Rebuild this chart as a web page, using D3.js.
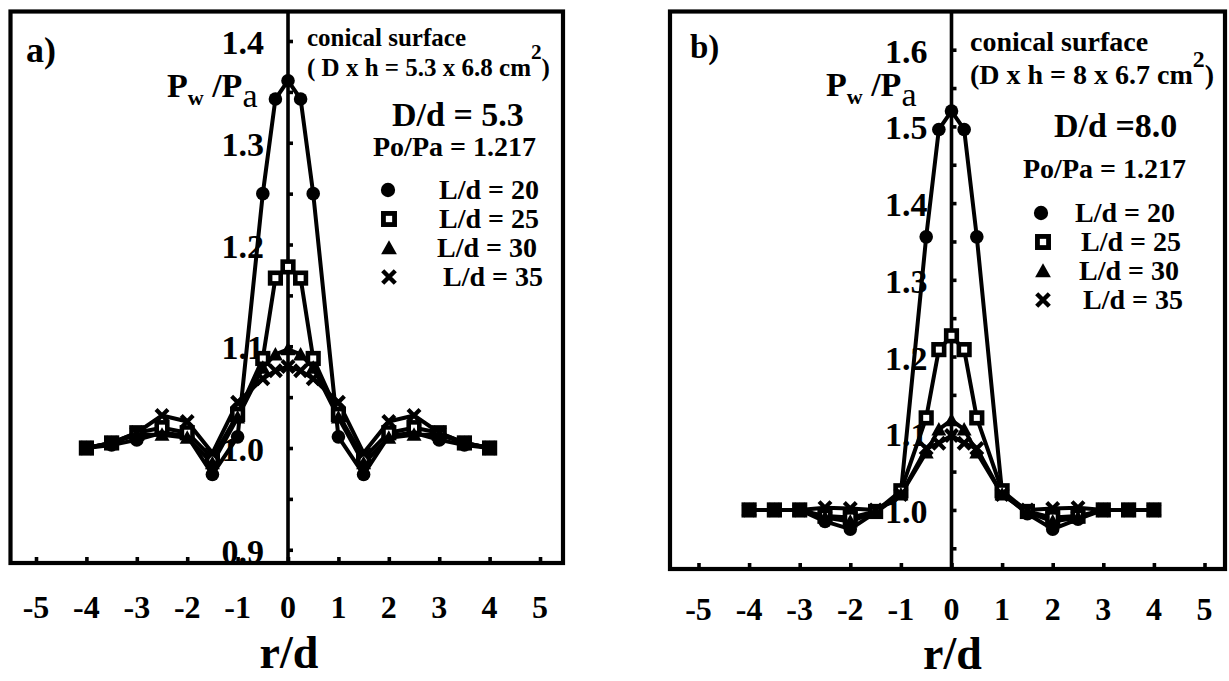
<!DOCTYPE html>
<html>
<head>
<meta charset="utf-8">
<script src="https://cdn.jsdelivr.net/npm/d3@7"></script>
<style>
  html, body { margin: 0; padding: 0; background: #fff; }
  svg { display: block; }
  svg text { font-family: "Liberation Serif", "Times New Roman", Times, serif; font-weight: 700; fill: #000; }
</style>
</head>
<body>
<svg id="chart" width="1229" height="681"></svg>
<script>
// radial positions r/d shared by every series
const rd = [-4, -3.5, -3, -2.5, -2, -1.5, -1, -0.5, -0.25, 0, 0.25, 0.5, 1, 1.5, 2, 2.5, 3, 3.5, 4];

// panel a: D/d = 5.3, wall pressure ratio Pw/Pa
const a_L20 = [1.000, 1.003, 1.008, 1.015, 1.012, 0.974, 1.011, 1.250, 1.343, 1.361, 1.343, 1.250, 1.011, 0.974, 1.012, 1.015, 1.008, 1.003, 1.000];
const a_L25 = [1.000, 1.005, 1.015, 1.020, 1.015, 0.990, 1.033, 1.088, 1.167, 1.178, 1.167, 1.088, 1.033, 0.990, 1.015, 1.020, 1.015, 1.005, 1.000];
const a_L30 = [1.000, 1.005, 1.013, 1.013, 1.010, 0.985, 1.030, 1.079, 1.092, 1.097, 1.092, 1.079, 1.030, 0.985, 1.010, 1.013, 1.013, 1.005, 1.000];
const a_L35 = [1.000, 1.005, 1.015, 1.032, 1.026, 0.995, 1.045, 1.068, 1.076, 1.080, 1.076, 1.068, 1.045, 0.995, 1.026, 1.032, 1.015, 1.005, 1.000];

// panel b: D/d = 8.0
const b_L20 = [1.000, 1.000, 1.000, 0.985, 0.975, 0.997, 1.022, 1.356, 1.496, 1.520, 1.496, 1.356, 1.022, 0.995, 0.975, 0.988, 1.000, 1.000, 1.000];
const b_L25 = [1.000, 1.000, 1.000, 0.992, 0.990, 0.998, 1.025, 1.120, 1.209, 1.227, 1.209, 1.120, 1.025, 0.998, 0.990, 0.992, 1.000, 1.000, 1.000];
const b_L30 = [1.000, 1.000, 1.000, 0.990, 0.985, 0.997, 1.020, 1.075, 1.105, 1.117, 1.105, 1.075, 1.020, 0.997, 0.985, 0.990, 1.000, 1.000, 1.000];
const b_L35 = [1.000, 1.000, 1.000, 1.003, 1.002, 1.000, 1.020, 1.080, 1.087, 1.097, 1.087, 1.080, 1.020, 1.000, 1.002, 1.003, 1.000, 1.000, 1.000];

// legend labels and marker kinds
const seriesLabels = ["L/d = 20", "L/d = 25", "L/d = 30", "L/d = 35"];
const markerKinds = ["circle", "square", "triangle", "cross"];

// tick labels
const xTicks = [-5, -4, -3, -2, -1, 0, 1, 2, 3, 4, 5];
const aYTicks = ["0.9", "1.0", "1.1", "1.2", "1.3", "1.4"];
const bYTicks = ["1.0", "1.1", "1.2", "1.3", "1.4", "1.5", "1.6"];

const FONT = "'Liberation Serif', 'Times New Roman', Times, serif";
const svg = d3.select("#chart");

function label(g, x, y, size, str) {
  return g.append("text").attr("x", x).attr("y", y)
    .attr("font-family", FONT).attr("font-weight", 700).attr("font-size", size).text(str);
}

function drawMarker(g, kind, x, y, s) {
  if (kind === "circle") {
    g.append("circle").attr("cx", x).attr("cy", y).attr("r", 6.8 * s).attr("fill", "#000");
  } else if (kind === "square") {
    const h = 5.3 * s;
    g.append("rect").attr("x", x - h).attr("y", y - h).attr("width", 2 * h).attr("height", 2 * h)
      .attr("fill", "#fff").attr("stroke", "#000").attr("stroke-width", 4.6 * s);
  } else if (kind === "triangle") {
    const h = 7.5 * s;
    g.append("path").attr("d", `M${x},${y - h}L${x + h},${y + h * 0.8}L${x - h},${y + h * 0.8}Z`).attr("fill", "#000");
  } else {
    const h = 6 * s;
    g.append("path").attr("d", `M${x - h},${y - h}L${x + h},${y + h}M${x - h},${y + h}L${x + h},${y - h}`)
      .attr("stroke", "#000").attr("stroke-width", 4.2 * s).attr("fill", "none");
  }
}

function drawPanel(p) {
  const x = d3.scaleLinear().domain(p.xDomain).range([p.left, p.right]);
  const y = d3.scaleLinear().domain(p.yDomain).range([p.bottom, p.top]);
  const g = svg.append("g");

  // y tick labels sit under the data
  g.selectAll(".ylab").data(p.yTicks).join("text")
    .attr("x", x(0) - 24).attr("y", d => y(+d) + 13)
    .attr("text-anchor", "end").attr("font-family", FONT).attr("font-weight", 700)
    .attr("font-size", 34).text(d => d);

  // vertical axis through r/d = 0 with small ticks on its right side
  g.append("line").attr("x1", x(0)).attr("x2", x(0)).attr("y1", p.top).attr("y2", p.bottom)
    .attr("stroke", "#000").attr("stroke-width", 3.6);
  const yAxis = d3.axisRight(y).tickValues(d3.range(p.yMinor[0], p.yMinor[1] + 1e-9, 0.05))
    .tickSize(5).tickFormat("");
  const ya = g.append("g").attr("transform", `translate(${x(0)},0)`).call(yAxis);
  ya.select(".domain").remove();
  ya.selectAll("line").attr("stroke", "#000").attr("stroke-width", 3.6);

  // bottom ticks and labels
  const xAxis = d3.axisTop(x).tickValues(xTicks).tickSize(6).tickFormat("");
  const xa = g.append("g").attr("transform", `translate(0,${p.bottom})`).call(xAxis);
  xa.select(".domain").remove();
  xa.selectAll("line").attr("stroke", "#000").attr("stroke-width", 3.6);
  g.selectAll(".xlab").data(xTicks).join("text")
    .attr("x", d => x(d)).attr("y", p.xLabelY).attr("text-anchor", "middle")
    .attr("font-family", FONT).attr("font-weight", 700)
    .attr("font-size", 32).text(d => d);
  label(g, x(0) + 1, p.titleY, 46, "r/d").attr("text-anchor", "middle");

  // series lines then markers
  const line = d3.line().x((d, i) => x(rd[i])).y(d => y(d));
  p.series.forEach(vals => {
    g.append("path").datum(vals).attr("d", line).attr("fill", "none")
      .attr("stroke", "#000").attr("stroke-width", 4).attr("stroke-linejoin", "round");
  });
  p.series.forEach((vals, k) => {
    vals.forEach((v, i) => drawMarker(g, markerKinds[k], x(rd[i]), y(v), 1));
  });

  // frame
  g.append("rect").attr("x", p.left).attr("y", p.top).attr("width", p.right - p.left)
    .attr("height", p.bottom - p.top).attr("fill", "none").attr("stroke", "#000").attr("stroke-width", 4.2);

  // panel annotations
  label(g, p.tag[0], p.tag[1], p.tagSize, p.tagText);

  const yl = label(g, p.ylab[0], p.ylab[1], 34, null);
  yl.append("tspan").text("P");
  yl.append("tspan").attr("font-size", 22).attr("dy", 8).text("w");
  yl.append("tspan").attr("dy", -8).text(" /P");
  yl.append("tspan").attr("font-size", 34).attr("font-weight", 400).attr("dy", 10).text("a");

  label(g, p.cone[0], p.cone[1], p.textSize, "conical surface");
  const dim = label(g, p.dim[0], p.dim[1], p.textSize, null);
  dim.append("tspan").text(p.dimText);
  dim.append("tspan").attr("font-size", p.textSize * 0.85).attr("dy", -17).text("2");
  dim.append("tspan").attr("dy", 17).text(")");

  label(g, p.ratio[0], p.ratio[1], p.ratioSize, p.ratioText);
  label(g, p.po[0], p.po[1], p.poSize, "Po/Pa = 1.217");

  seriesLabels.forEach((lab, k) => {
    const ly = p.legend.y0 + k * p.legend.dy;
    drawMarker(g, markerKinds[k], p.legend.mx[k], ly, 1.05);
    label(g, p.legend.tx[k], ly + 9, p.legend.size, lab);
  });
}

drawPanel({
  left: 10.5, right: 563, top: 11.5, bottom: 563,
  xDomain: [-5.506, 5.456], yDomain: [0.887, 1.429],
  yTicks: aYTicks, yMinor: [0.9, 1.4],
  xLabelY: 618, titleY: 668,
  series: [a_L20, a_L25, a_L30, a_L35],
  tag: [26, 62], tagText: "a)", tagSize: 36,
  ylab: [167, 97],
  cone: [307, 46], dim: [307, 76], dimText: "( D x h = 5.3 x 6.8 cm", textSize: 25,
  ratio: [392, 126], ratioText: "D/d = 5.3", ratioSize: 34,
  po: [373, 156], poSize: 28,
  legend: { y0: 190, dy: 29, mx: [388, 389, 389, 389], tx: [439, 439, 437, 443], size: 28 }
});

drawPanel({
  left: 670, right: 1225, top: 11.5, bottom: 569,
  xDomain: [-5.563, 5.405], yDomain: [0.923, 1.6498],
  yTicks: bYTicks, yMinor: [0.95, 1.6],
  xLabelY: 620, titleY: 669,
  series: [b_L20, b_L25, b_L30, b_L35],
  tag: [690, 58], tagText: "b)", tagSize: 33,
  ylab: [826, 96],
  cone: [970, 51], dim: [970, 84], dimText: "(D x h = 8 x 6.7 cm", textSize: 28,
  ratio: [1054, 137], ratioText: "D/d =8.0", ratioSize: 34,
  po: [1023, 178], poSize: 28,
  legend: { y0: 213, dy: 29, mx: [1041, 1043, 1043, 1043], tx: [1075, 1081, 1079, 1083], size: 28 }
});
</script>
</body>
</html>
